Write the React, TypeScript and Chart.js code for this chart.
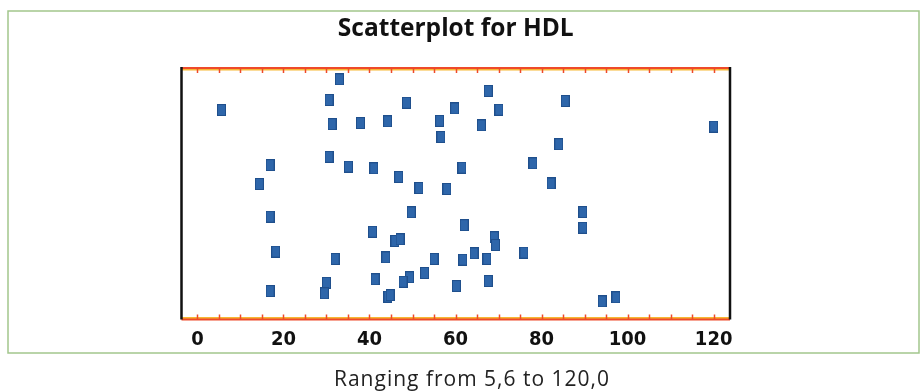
import React, { useEffect, useRef } from "react";
import { Chart, registerables } from "chart.js";

Chart.register(...registerables);

const chartTitle = "Scatterplot for HDL";
const caption = "Ranging from 5,6 to 120,0";

// HDL values (x) and vertical jitter positions (y, 0-100 across plot height)
const hdlValues = [
  5.6, 33.0, 30.6, 48.6, 67.6, 59.8, 70.1, 85.5, 31.3, 37.9,
  44.2, 56.3, 66.0, 56.6, 84.0, 120.0, 30.6, 16.9, 35.1, 41.0,
  61.5, 78.0, 14.4, 46.8, 51.5, 58.0, 82.2, 49.7, 16.9, 89.6,
  89.6, 40.7, 62.0, 45.9, 47.1, 69.0, 69.3, 18.2, 32.0, 43.8,
  55.0, 61.7, 64.3, 67.3, 75.9, 52.8, 49.3, 47.8, 41.3, 30.0,
  29.5, 16.9, 44.3, 44.8, 60.2, 67.6, 94.1, 97.3,
];
const jitterValues = [
  83.3, 95.5, 87.3, 86.2, 90.9, 83.9, 83.4, 86.9, 77.7, 78.1,
  78.8, 79.0, 77.2, 72.6, 69.7, 76.7, 64.7, 61.4, 60.8, 60.1,
  60.4, 62.1, 53.9, 56.7, 52.3, 51.9, 54.1, 42.6, 40.9, 42.7,
  36.5, 34.9, 37.5, 31.2, 31.9, 32.7, 29.6, 27.0, 24.1, 24.7,
  24.1, 23.8, 26.3, 24.1, 26.6, 18.5, 16.8, 15.0, 16.0, 14.6,
  10.4, 11.3, 9.1, 9.7, 13.3, 15.3, 7.2, 8.8,
];

const majorTicks = [0, 20, 40, 60, 80, 100, 120];
const tickLabels = ["0", "20", "40", "60", "80", "100", "120"];
const minorTicks = [
  0, 5, 10, 15, 20, 25, 30, 35, 40, 45, 50, 55, 60, 65, 70, 75, 80, 85, 90,
  95, 100, 105, 110, 115, 120,
];
const xMin = -3.7;
const xMax = 123.8;

function makeMarker(): HTMLCanvasElement {
  const c = document.createElement("canvas");
  c.width = 9;
  c.height = 12;
  const g = c.getContext("2d")!;
  g.fillStyle = "#1f4f8c";
  g.fillRect(0, 0, 9, 12);
  g.fillStyle = "#2e66aa";
  g.fillRect(1, 1, 7, 10);
  return c;
}

const framePlugin = {
  id: "framePlugin",
  beforeDatasetsDraw(chart: any) {
    const { ctx, chartArea } = chart;
    const xs = chart.scales.x;
    const { left, right, top, bottom } = chartArea;
    ctx.save();
    ctx.strokeStyle = "#f7b733";
    ctx.lineWidth = 2;
    ctx.beginPath();
    ctx.moveTo(left, top + 1.5);
    ctx.lineTo(right, top + 1.5);
    ctx.moveTo(left, bottom - 1.5);
    ctx.lineTo(right, bottom - 1.5);
    ctx.stroke();
    ctx.strokeStyle = "#ee4a2a";
    ctx.lineWidth = 2;
    ctx.beginPath();
    ctx.moveTo(left, top);
    ctx.lineTo(right, top);
    ctx.moveTo(left, bottom);
    ctx.lineTo(right, bottom);
    ctx.stroke();
    ctx.lineWidth = 1.5;
    ctx.beginPath();
    for (const v of minorTicks) {
      const px = Math.round(xs.getPixelForValue(v)) + 0.5;
      ctx.moveTo(px, top);
      ctx.lineTo(px, top + 5);
      ctx.moveTo(px, bottom);
      ctx.lineTo(px, bottom - 5);
    }
    ctx.stroke();
    ctx.strokeStyle = "#111";
    ctx.lineWidth = 2.5;
    ctx.beginPath();
    ctx.moveTo(left, top - 1);
    ctx.lineTo(left, bottom);
    ctx.moveTo(right, top - 1);
    ctx.lineTo(right, bottom);
    ctx.stroke();
    ctx.restore();
  },
  afterDraw(chart: any) {
    const { ctx } = chart;
    ctx.save();
    ctx.strokeStyle = "#a2c68c";
    ctx.lineWidth = 1.5;
    ctx.strokeRect(8, 11, 911, 342);
    ctx.fillStyle = "#222";
    ctx.font = "21px 'Open Sans', sans-serif";
    try {
      (ctx as any).letterSpacing = "1px";
    } catch (e) {}
    ctx.textAlign = "center";
    ctx.textBaseline = "alphabetic";
    ctx.fillText(caption, 472, 386);
    ctx.restore();
  },
};

export default function App() {
  const ref = useRef<HTMLCanvasElement | null>(null);
  useEffect(() => {
    document.body.style.margin = "0";
    const canvas = ref.current!;
    const marker = makeMarker();
    const points = hdlValues.map((v, i) => ({ x: v, y: jitterValues[i] }));
    const chart = new Chart(canvas, {
      type: "scatter",
      data: {
        datasets: [
          {
            label: "HDL",
            data: points,
            pointStyle: marker as any,
            pointRadius: 5,
            pointHoverRadius: 5,
          },
        ],
      },
      options: {
        animation: false,
        responsive: false,
        devicePixelRatio: 1,
        layout: { padding: { left: 181.5, right: 192, top: 0, bottom: 39.5 } },
        plugins: {
          legend: { display: false },
          tooltip: { enabled: false },
          title: {
            display: true,
            text: chartTitle,
            color: "#111",
            font: { family: "'Open Sans', sans-serif", size: 24.5, weight: "bold", lineHeight: 1.2 },
            padding: { top: 14, bottom: 24.6 },
          },
        },
        scales: {
          x: {
            type: "linear",
            min: xMin,
            max: xMax,
            grid: { display: false, drawTicks: false },
            border: { display: false },
            afterBuildTicks: (scale: any) => {
              scale.ticks = majorTicks.map((v) => ({ value: v }));
            },
            afterFit: (scale: any) => {
              scale.height = 32;
            },
            ticks: {
              padding: 8,
              color: "#111",
              autoSkip: false,
              maxRotation: 0,
              font: {
                family: "'Liberation Sans Narrow', 'DejaVu Sans Condensed', sans-serif",
                size: 20,
                weight: "bold",
              },
              callback: (value: any) => {
                const i = majorTicks.indexOf(Number(value));
                return i >= 0 ? tickLabels[i] : "";
              },
            },
          },
          y: {
            display: false,
            min: 0,
            max: 100,
          },
        },
      },
      plugins: [framePlugin],
    });
    return () => chart.destroy();
  }, []);
  return <canvas ref={ref} width={922} height={391} style={{ display: "block" }} />;
}
